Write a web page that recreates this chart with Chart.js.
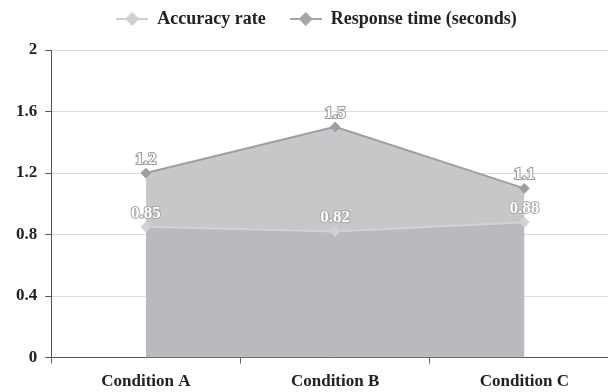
<!DOCTYPE html>
<html>
<head>
<meta charset="utf-8">
<script src="https://cdn.jsdelivr.net/npm/chart.js@4.4.1/dist/chart.umd.min.js"></script>
<style>
  html, body { margin: 0; padding: 0; background: #fff; overflow: hidden; }
  canvas { display: block; }
</style>
</head>
<body>
<canvas id="c" width="625" height="392" style="width:625px;height:392px"></canvas>
<script>
const categories = ['Condition A', 'Condition B', 'Condition C'];
const accuracyRate = [0.85, 0.82, 0.88];
const responseTime = [1.2, 1.5, 1.1];
const seriesNames = ['Accuracy rate', 'Response time (seconds)'];
const yTicks = [0, 0.4, 0.8, 1.2, 1.6, 2];

const SERIF = '"Liberation Serif", "Times New Roman", serif';

// legend marker: short line with a diamond in the middle
function legendMarker(color) {
  const cv = document.createElement('canvas');
  cv.width = 32; cv.height = 14;
  const g = cv.getContext('2d');
  g.strokeStyle = color; g.lineWidth = 2;
  g.beginPath(); g.moveTo(0, 7); g.lineTo(32, 7); g.stroke();
  g.fillStyle = color;
  g.beginPath(); g.moveTo(16, 0); g.lineTo(23, 7); g.lineTo(16, 14); g.lineTo(9, 7); g.closePath(); g.fill();
  return cv;
}

// extra space between the legend and the plot
const legendGap = {
  id: 'legendGap',
  afterInit(chart) {
    const lg = chart.legend;
    if (!lg) return;
    const fit = lg.fit;
    lg.fit = function () { fit.call(this); this.height += 12; };
  }
};

// value labels drawn as white text with a grey outline
const valueLabels = {
  id: 'valueLabels',
  afterDatasetsDraw(chart) {
    const ctx = chart.ctx;
    ctx.save();
    ctx.font = 'bold 17px ' + SERIF;
    ctx.textAlign = 'center';
    ctx.textBaseline = 'bottom';
    chart.data.datasets.forEach((ds, i) => {
      const meta = chart.getDatasetMeta(i);
      meta.data.forEach((pt, j) => {
        const txt = String(ds.data[j]);
        const x = pt.x, y = pt.y - 5;
        ctx.lineWidth = 2;
        ctx.strokeStyle = ds.labelOutline;
        ctx.strokeText(txt, x, y);
        ctx.fillStyle = '#ffffff';
        ctx.fillText(txt, x, y);
      });
    });
    ctx.restore();
  }
};

new Chart(document.getElementById('c'), {
  type: 'line',
  data: {
    labels: categories,
    datasets: [
      {
        label: seriesNames[0],
        data: accuracyRate,
        borderColor: '#d2d2d4',
        backgroundColor: '#b9babd',
        fill: 'origin',
        borderWidth: 2,
        pointStyle: 'rectRot',
        pointRadius: 4,
        pointBackgroundColor: '#d2d2d4',
        pointBorderColor: '#d2d2d4',
        tension: 0,
        labelOutline: '#a8a8ac',
        markerImg: legendMarker('#cfcfd1')
      },
      {
        label: seriesNames[1],
        data: responseTime,
        borderColor: '#9e9ea3',
        backgroundColor: '#c6c7c9',
        fill: 'origin',
        borderWidth: 2,
        pointStyle: 'rectRot',
        pointRadius: 4,
        pointBackgroundColor: '#9e9ea3',
        pointBorderColor: '#9e9ea3',
        tension: 0,
        labelOutline: '#9a9a9e',
        markerImg: legendMarker('#a4a4a8')
      }
    ]
  },
  options: {
    responsive: false,
    animation: false,
    layout: { padding: { top: -14, left: 8, right: 0, bottom: -8 } },
    plugins: {
      tooltip: { enabled: false },
      legend: {
        position: 'top',
        labels: {
          usePointStyle: true,
          pointStyleWidth: 32,
          padding: 24,
          color: '#222',
          font: { family: SERIF, size: 18, weight: 'bold' },
          generateLabels(chart) {
            return chart.data.datasets.map((ds, i) => ({
              text: ds.label,
              pointStyle: ds.markerImg,
              fillStyle: ds.borderColor,
              strokeStyle: ds.borderColor,
              lineWidth: 0,
              hidden: false,
              datasetIndex: i,
              fontColor: '#222'
            }));
          }
        }
      }
    },
    scales: {
      x: {
        offset: true,
        grid: {
          display: true,
          offset: true,
          drawOnChartArea: false,
          drawTicks: true,
          tickLength: 6,
          color: '#666'
        },
        border: { color: '#555', width: 1 },
        ticks: {
          color: '#222',
          padding: 8,
          font: { family: SERIF, size: 17, weight: 'bold' }
        }
      },
      y: {
        min: 0,
        max: 2,
        afterBuildTicks(axis) { axis.ticks = yTicks.map(v => ({ value: v })); },
        grid: {
          color: '#dcdcdc',
          tickLength: 6,
          tickColor: '#555'
        },
        border: { color: '#555', width: 1 },
        ticks: {
          color: '#222',
          padding: 8,
          font: { family: SERIF, size: 17, weight: 'bold' },
          callback: v => String(v)
        }
      }
    }
  },
  plugins: [legendGap, valueLabels]
});
</script>
</body>
</html>
